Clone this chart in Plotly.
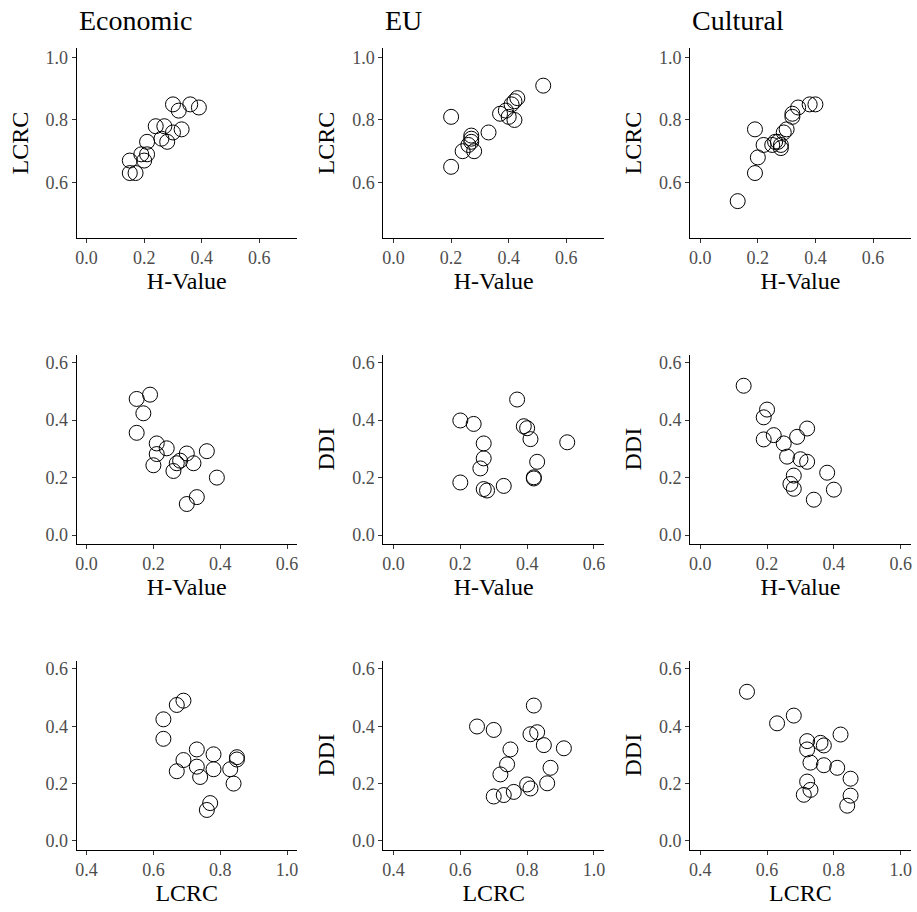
import plotly.graph_objects as go

# ---- data ----
groups = ["Economic", "EU", "Cultural"]

econ_h    = [0.30, 0.32, 0.36, 0.39, 0.24, 0.27, 0.33, 0.30, 0.26, 0.28, 0.21, 0.19, 0.21, 0.20, 0.15, 0.15, 0.17]
econ_lcrc = [0.85, 0.83, 0.85, 0.84, 0.78, 0.78, 0.77, 0.76, 0.74, 0.73, 0.73, 0.69, 0.69, 0.67, 0.67, 0.63, 0.63]
econ_ddi  = [0.284, 0.250, 0.292, 0.200, 0.302, 0.250, 0.132, 0.108, 0.223, 0.259, 0.319, 0.489, 0.282, 0.243, 0.474, 0.356, 0.424]

eu_h    = [0.37, 0.20, 0.24, 0.40, 0.39, 0.41, 0.52, 0.27, 0.27, 0.43, 0.26, 0.42, 0.20, 0.42, 0.33, 0.28, 0.27]
eu_lcrc = [0.82, 0.65, 0.70, 0.81, 0.83, 0.85, 0.91, 0.75, 0.74, 0.87, 0.72, 0.80, 0.81, 0.86, 0.76, 0.70, 0.73]
eu_ddi  = [0.472, 0.399, 0.387, 0.372, 0.379, 0.334, 0.323, 0.319, 0.267, 0.255, 0.232, 0.197, 0.183, 0.201, 0.171, 0.155, 0.160]

cult_h    = [0.13, 0.20, 0.19, 0.22, 0.19, 0.32, 0.29, 0.25, 0.26, 0.30, 0.32, 0.38, 0.28, 0.27, 0.28, 0.40, 0.34]
cult_lcrc = [0.54, 0.68, 0.63, 0.72, 0.77, 0.82, 0.76, 0.72, 0.73, 0.77, 0.81, 0.85, 0.72, 0.73, 0.71, 0.85, 0.84]
cult_ddi  = [0.520, 0.437, 0.410, 0.348, 0.333, 0.371, 0.342, 0.319, 0.273, 0.264, 0.255, 0.217, 0.207, 0.178, 0.161, 0.158, 0.123]

hvalue_ticks = [0.0, 0.2, 0.4, 0.6]
lcrc_ticks_x = [0.4, 0.6, 0.8, 1.0]
lcrc_ticks_y = [0.6, 0.8, 1.0]
ddi_ticks = [0.0, 0.2, 0.4, 0.6]

data = {
    "Economic": (econ_h, econ_lcrc, econ_ddi),
    "EU": (eu_h, eu_lcrc, eu_ddi),
    "Cultural": (cult_h, cult_lcrc, cult_ddi),
}

# ---- layout geometry (pixels) ----
W, H = 917, 912
col_px = [(75.7, 296.7), (383.3, 604.3), (690.7, 911.7)]
row_px = [(46.7, 236.7), (354.3, 544.0), (661.7, 851.3)]

FONT = "Liberation Serif"
TICKCOL = "#4D4D4D"

fig = go.Figure()
layout = dict(
    width=W, height=H,
    margin=dict(l=0, r=0, t=0, b=0),
    paper_bgcolor="white", plot_bgcolor="white",
    showlegend=False,
    font=dict(family=FONT, color="black"),
    annotations=[],
)

def axis_common():
    return dict(
        showgrid=False, zeroline=False,
        showline=True, linecolor="black", linewidth=1,
        ticks="outside", ticklen=4, tickwidth=1, tickcolor="#333333",
        tickfont=dict(family=FONT, size=18, color=TICKCOL),
        tickformat=".1f",
        title_font=dict(family=FONT, size=24, color="black"),
    )

for c, g in enumerate(groups):
    h, lcrc, ddi = data[g]
    panels = [
        (h, lcrc, "H-Value", "LCRC", [-0.035, 0.731], [0.423, 1.029], hvalue_ticks, lcrc_ticks_y),
        (h, ddi, "H-Value", "DDI", [-0.03, 0.63], [-0.03, 0.628], hvalue_ticks, ddi_ticks),
        (lcrc, ddi, "LCRC", "DDI", [0.37, 1.03], [-0.03, 0.628], lcrc_ticks_x, ddi_ticks),
    ]
    for r, (xv, yv, xt, yt, xr, yr, xtk, ytk) in enumerate(panels):
        k = r * 3 + c + 1
        sfx = "" if k == 1 else str(k)
        fig.add_trace(go.Scatter(
            x=xv, y=yv, mode="markers",
            marker=dict(symbol="circle", size=15, color="rgba(0,0,0,0)",
                        line=dict(color="black", width=1)),
            xaxis="x" + sfx, yaxis="y" + sfx, hoverinfo="x+y",
        ))
        x0, x1 = col_px[c]
        y0, y1 = row_px[r]
        xa = axis_common()
        xa.update(domain=[x0 / W, x1 / W], anchor="y" + sfx, range=xr,
                  tickvals=xtk, title=dict(text=xt, standoff=4))
        ya = axis_common()
        show_ytitle = not (c == 0 and r > 0)
        ya.update(domain=[1 - y1 / H, 1 - y0 / H], anchor="x" + sfx, range=yr,
                  tickvals=ytk,
                  title=dict(text=yt if show_ytitle else "", standoff=10))
        layout["xaxis" + sfx] = xa
        layout["yaxis" + sfx] = ya
    layout["annotations"].append(dict(
        text=g, x=col_px[c][0] / W, y=1 - 19 / H, xref="paper", yref="paper",
        xanchor="left", yanchor="middle", showarrow=False,
        font=dict(family=FONT, size=28, color="black"),
    ))

fig.update_layout(**layout)
fig.write_html(
    "out.html",
    config={"displayModeBar": False},
    post_script="document.body.style.margin='0';document.body.style.overflow='hidden';",
)
